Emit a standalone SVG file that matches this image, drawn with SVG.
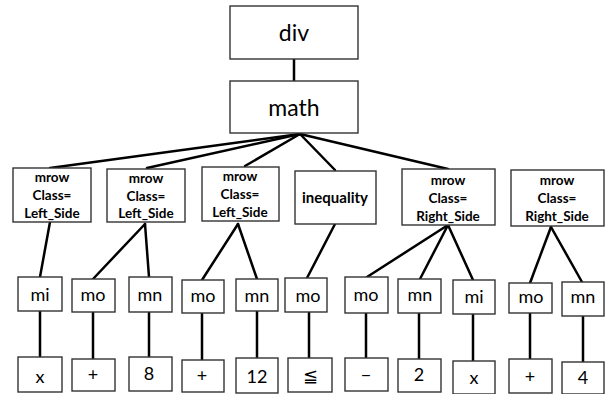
<svg xmlns="http://www.w3.org/2000/svg" width="605" height="394" viewBox="0 0 605 394">
<style>
.b{fill:#fff;stroke:#333;stroke-width:1.4}
.t{font-family:"Lato","Open Sans","Liberation Sans",sans-serif;fill:#000;text-anchor:middle}
.big{font-size:23px}
.bold{font-size:13.5px;font-weight:bold}
.iq{font-size:15px;font-weight:bold}
.m{font-size:18px}
.v{font-size:18px}
#edges line{stroke:#000;stroke-width:2.5;stroke-linecap:round}
</style>
<rect width="605" height="394" fill="#fff"/>
<g id="edges">
<line x1="294" y1="59" x2="294" y2="81"/>
<line x1="300" y1="134" x2="50" y2="168"/>
<line x1="300" y1="134" x2="147" y2="168"/>
<line x1="300" y1="134" x2="245" y2="166"/>
<line x1="300" y1="134" x2="335" y2="170"/>
<line x1="300" y1="134" x2="448" y2="169"/>
<line x1="50" y1="222" x2="40" y2="277"/>
<line x1="145" y1="224" x2="93" y2="279"/>
<line x1="145" y1="224" x2="149" y2="277"/>
<line x1="238" y1="224" x2="202" y2="280"/>
<line x1="238" y1="224" x2="257" y2="279"/>
<line x1="335" y1="224" x2="307" y2="278"/>
<line x1="448" y1="225" x2="367" y2="277"/>
<line x1="448" y1="225" x2="420" y2="279"/>
<line x1="448" y1="225" x2="473" y2="280"/>
<line x1="551" y1="227" x2="530" y2="283"/>
<line x1="551" y1="227" x2="582" y2="282"/>
<line x1="40" y1="311" x2="40" y2="357"/>
<line x1="93" y1="312" x2="93" y2="359"/>
<line x1="149" y1="312" x2="149" y2="357"/>
<line x1="202" y1="313" x2="202" y2="360"/>
<line x1="257" y1="311" x2="257" y2="358"/>
<line x1="309" y1="312" x2="309" y2="358"/>
<line x1="366" y1="313" x2="366" y2="358"/>
<line x1="419" y1="313" x2="419" y2="359"/>
<line x1="473" y1="314" x2="473" y2="361"/>
<line x1="530" y1="313" x2="530" y2="359"/>
<line x1="583" y1="316" x2="583" y2="362"/>
</g>
<g id="div"><rect class="b" x="230" y="6" width="128" height="53"/><text class="t big" x="294" y="41">div</text></g>
<g id="math"><rect class="b" x="230" y="81" width="128" height="52"/><text class="t big" x="294" y="116">math</text></g>
<g id="mrow1"><rect class="b" x="13" y="168" width="78" height="54"/><text class="t bold" x="52"><tspan x="52" y="182">mrow</tspan><tspan x="52" y="200">Class=</tspan><tspan x="52" y="218">Left_Side</tspan></text></g>
<g id="mrow2"><rect class="b" x="107" y="169" width="78" height="53"/><text class="t bold" x="146"><tspan x="146" y="183">mrow</tspan><tspan x="146" y="201">Class=</tspan><tspan x="146" y="218">Left_Side</tspan></text></g>
<g id="mrow3"><rect class="b" x="202" y="167" width="77" height="54"/><text class="t bold" x="240"><tspan x="240" y="181">mrow</tspan><tspan x="240" y="199">Class=</tspan><tspan x="240" y="217">Left_Side</tspan></text></g>
<g id="inequality"><rect class="b" x="295" y="171" width="81" height="53"/><text class="t iq" x="335" y="203">inequality</text></g>
<g id="mrow5"><rect class="b" x="402" y="169" width="93" height="56"/><text class="t bold" x="448"><tspan x="448" y="185">mrow</tspan><tspan x="448" y="203">Class=</tspan><tspan x="448" y="221">Right_Side</tspan></text></g>
<g id="mrow6"><rect class="b" x="511" y="170" width="93" height="56"/><text class="t bold" x="557"><tspan x="557" y="185">mrow</tspan><tspan x="557" y="203">Class=</tspan><tspan x="557" y="221">Right_Side</tspan></text></g>
<g id="mi1"><rect class="b" x="18" y="277" width="44" height="34"/><text class="t m" x="40" y="301">mi</text></g>
<g id="mo1"><rect class="b" x="72" y="279" width="43" height="33"/><text class="t m" x="93" y="301">mo</text></g>
<g id="mn1"><rect class="b" x="129" y="277" width="43" height="35"/><text class="t m" x="150" y="301">mn</text></g>
<g id="mo2"><rect class="b" x="182" y="280" width="42" height="33"/><text class="t m" x="203" y="302">mo</text></g>
<g id="mn2"><rect class="b" x="236" y="279" width="42" height="32"/><text class="t m" x="257" y="302">mn</text></g>
<g id="mo3"><rect class="b" x="285" y="278" width="42" height="34"/><text class="t m" x="308" y="302">mo</text></g>
<g id="mo4"><rect class="b" x="345" y="277" width="43" height="36"/><text class="t m" x="366" y="301">mo</text></g>
<g id="mn3"><rect class="b" x="398" y="279" width="43" height="34"/><text class="t m" x="420" y="301">mn</text></g>
<g id="mi2"><rect class="b" x="453" y="280" width="42" height="34"/><text class="t m" x="474" y="303">mi</text></g>
<g id="mo5"><rect class="b" x="509" y="283" width="43" height="30"/><text class="t m" x="531" y="303">mo</text></g>
<g id="mn4"><rect class="b" x="562" y="282" width="42" height="34"/><text class="t m" x="583" y="303">mn</text></g>
<g id="x1"><rect class="b" x="18" y="357" width="44" height="35"/><text class="t v" x="40" y="383">x</text></g>
<g id="plus1"><rect class="b" x="72" y="359" width="43" height="32"/><text class="t v" x="93" y="381">+</text></g>
<g id="n8"><rect class="b" x="129" y="357" width="43" height="34"/><text class="t v" x="149" y="380">8</text></g>
<g id="plus2"><rect class="b" x="182" y="360" width="42" height="32"/><text class="t v" x="202" y="382">+</text></g>
<g id="n12"><rect class="b" x="236" y="358" width="42" height="35"/><text class="t v" x="257" y="383">12</text></g>
<g id="le"><rect class="b" x="288" y="358" width="44" height="34"/><text class="t v" x="310" y="382">≦</text></g>
<g id="minus"><rect class="b" x="345" y="358" width="43" height="33"/><text class="t v" x="366" y="381">−</text></g>
<g id="n2"><rect class="b" x="398" y="359" width="43" height="33"/><text class="t v" x="419" y="381">2</text></g>
<g id="x2"><rect class="b" x="453" y="361" width="42" height="33"/><text class="t v" x="474" y="384">x</text></g>
<g id="plus3"><rect class="b" x="509" y="359" width="43" height="34"/><text class="t v" x="530" y="383">+</text></g>
<g id="n4"><rect class="b" x="562" y="362" width="42" height="32"/><text class="t v" x="583" y="384">4</text></g>
</svg>
